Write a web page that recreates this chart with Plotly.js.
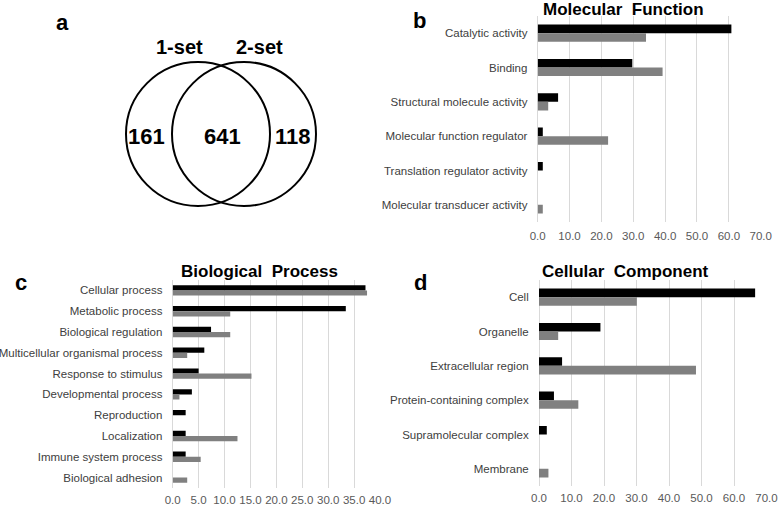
<!DOCTYPE html>
<html>
<head>
<meta charset="utf-8">
<script src="https://cdn.plot.ly/plotly-3.0.1.min.js"></script>
<style>html,body{margin:0;padding:0;background:#fff;}#chart{width:778px;height:507px;}</style>
</head>
<body>
<div id="chart"></div>
<script>
// ---- Data ----
const mfCats = ['Catalytic activity','Binding','Structural molecule activity','Molecular function regulator','Translation regulator activity','Molecular transducer activity'];
const mfSet1 = [60.8, 29.7, 6.4, 1.6, 1.6, 0];
const mfSet2 = [34.0, 39.2, 3.3, 22.1, 0, 1.6];

const bpCats = ['Cellular process','Metabolic process','Biological regulation','Multicellular organismal process','Response to stimulus','Developmental process','Reproduction','Localization','Immune system process','Biological adhesion'];
const bpSet1 = [37.2, 33.4, 7.4, 6.1, 5.0, 3.7, 2.5, 2.5, 2.5, 0];
const bpSet2 = [37.5, 11.1, 11.1, 2.8, 15.2, 1.3, 0, 12.5, 5.4, 2.8];

const ccCats = ['Cell','Organelle','Extracellular region','Protein-containing complex','Supramolecular complex','Membrane'];
const ccSet1 = [66.5, 18.9, 7.1, 4.6, 2.4, 0];
const ccSet2 = [30.1, 5.9, 48.3, 12.1, 0, 2.9];

const vennSets = ['1-set','2-set'];
const vennCounts = [161, 641, 118];   // only 1-set, both, only 2-set

const panelTitles = ['Molecular Function','Biological Process','Cellular Component'];
const panelLetters = ['a','b','c','d'];

// ---- Helpers ----
const W = 778, H = 507;
const px = x => x / W;
const py = y => 1 - y / H;
const FONT = 'Liberation Sans, Arial, sans-serif';
const BLACK = '#000000', GRAY = '#808080';

function bars(cats, v1, v2, xa, ya) {
  return [
    {type:'bar', orientation:'h', y:cats, x:v1, marker:{color:BLACK}, xaxis:xa, yaxis:ya, hoverinfo:'skip', showlegend:false},
    {type:'bar', orientation:'h', y:cats, x:v2, marker:{color:GRAY}, xaxis:xa, yaxis:ya, hoverinfo:'skip', showlegend:false}
  ];
}

const data = [
  ...bars(mfCats, mfSet1, mfSet2, 'x', 'y'),
  ...bars(bpCats, bpSet1, bpSet2, 'x2', 'y2'),
  ...bars(ccCats, ccSet1, ccSet2, 'x3', 'y3')
];

function xax(domain, max, dtick, anchor, len) {
  return {domain:domain, range:[0,max], dtick:dtick, tick0:0, tickformat:'.1f', anchor:anchor,
    showgrid:true, gridcolor:'#d9d9d9', gridwidth:1, zeroline:true, zerolinecolor:'#d9d9d9', zerolinewidth:1,
    showline:false, ticks:'outside', ticklen:len, tickcolor:'rgba(0,0,0,0)',
    tickfont:{family:FONT, size:11.5, color:'#595959'}, fixedrange:true};
}
function yax(domain, n, anchor) {
  return {domain:domain, type:'category', range:[n-0.5, -0.5], anchor:anchor,
    showgrid:false, zeroline:false, showline:false, ticks:'outside', ticklen:7, tickcolor:'rgba(0,0,0,0)',
    tickfont:{family:FONT, size:11.5, color:'#404040'}, fixedrange:true};
}

const layout = {
  width:W, height:H, margin:{l:0,r:0,t:0,b:0}, paper_bgcolor:'#fff', plot_bgcolor:'rgba(0,0,0,0)',
  barmode:'group', bargap:0.5, bargroupgap:0, showlegend:false,
  font:{family:FONT},
  xaxis:  xax([px(537.7), px(760.7)], 70, 10, 'y', 3),
  yaxis:  yax([py(222), py(16)], mfCats.length, 'x'),
  xaxis2: xax([px(172.7), px(380)], 40, 5, 'y2', 1),
  yaxis2: yax([py(488), py(280)], bpCats.length, 'x2'),
  xaxis3: xax([px(539), px(766.5)], 70, 10, 'y3', 1),
  yaxis3: yax([py(486), py(280)], ccCats.length, 'x3'),
  shapes:[
    {type:'circle', xref:'paper', yref:'paper', x0:px(198-72), x1:px(198+72), y0:py(134+72), y1:py(134-72), line:{color:'#000', width:2}},
    {type:'circle', xref:'paper', yref:'paper', x0:px(244-72), x1:px(244+72), y0:py(134+72), y1:py(134-72), line:{color:'#000', width:2}}
  ],
  annotations:[]
};

function ann(text, x, y, size) {
  layout.annotations.push({text:text, xref:'paper', yref:'paper', x:px(x), y:py(y), xanchor:'center', yanchor:'middle',
    showarrow:false, font:{family:FONT, size:size, color:'#000', weight:'bold'}});
}
const wide = t => '<b>' + t.replace(' ', '\u00a0\u00a0') + '</b>';
// panel letters
ann('<b>'+panelLetters[0]+'</b>', 63, 22, 22);
ann('<b>'+panelLetters[1]+'</b>', 419, 21, 22);
ann('<b>'+panelLetters[2]+'</b>', 21, 282, 22);
ann('<b>'+panelLetters[3]+'</b>', 421, 282, 22);
// titles
ann(wide(panelTitles[0]), 623, 10, 17);
ann(wide(panelTitles[1]), 259, 271, 17);
ann(wide(panelTitles[2]), 625, 271, 17);
// venn
ann('<b>'+vennSets[0]+'</b>', 179, 47, 20);
ann('<b>'+vennSets[1]+'</b>', 259, 47, 20);
ann('<b>'+vennCounts[0]+'</b>', 146, 136, 22);
ann('<b>'+vennCounts[1]+'</b>', 222, 136, 22);
ann('<b>'+vennCounts[2]+'</b>', 293, 136, 22);

Plotly.newPlot('chart', data, layout, {staticPlot:true, displayModeBar:false});
</script>
</body>
</html>
